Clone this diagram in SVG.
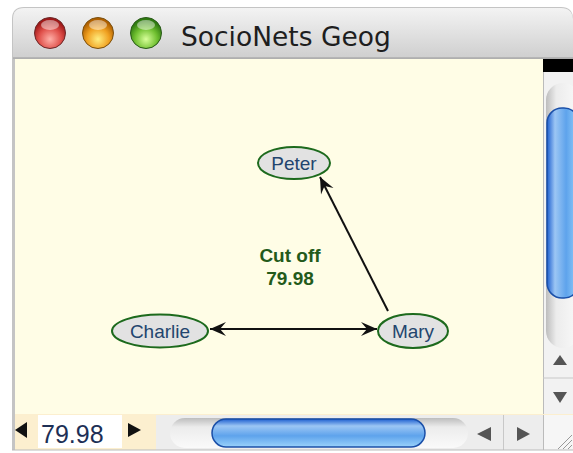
<svg xmlns="http://www.w3.org/2000/svg" width="573" height="453" viewBox="0 0 573 453">
<defs>
<linearGradient id="titleG" x1="0" y1="0" x2="0" y2="1">
<stop offset="0" stop-color="#f3f3f3"/><stop offset="1" stop-color="#cfcfcf"/>
</linearGradient>
<radialGradient id="redG" cx="0.5" cy="0.7" r="0.6">
<stop offset="0" stop-color="#ffb0a8"/><stop offset="0.6" stop-color="#e0504a"/><stop offset="1" stop-color="#a01818"/>
</radialGradient>
<radialGradient id="oraG" cx="0.5" cy="0.7" r="0.6">
<stop offset="0" stop-color="#ffee80"/><stop offset="0.6" stop-color="#f0a020"/><stop offset="1" stop-color="#b06000"/>
</radialGradient>
<radialGradient id="grnG" cx="0.5" cy="0.7" r="0.6">
<stop offset="0" stop-color="#d8ff9a"/><stop offset="0.6" stop-color="#70c030"/><stop offset="1" stop-color="#2f7a10"/>
</radialGradient>
<linearGradient id="vTrack" x1="0" y1="0" x2="1" y2="0">
<stop offset="0" stop-color="#bdbdbd"/><stop offset="0.3" stop-color="#ececec"/><stop offset="1" stop-color="#fafafa"/>
</linearGradient>
<linearGradient id="hTrack" x1="0" y1="0" x2="0" y2="1">
<stop offset="0" stop-color="#bdbdbd"/><stop offset="0.3" stop-color="#ececec"/><stop offset="1" stop-color="#fafafa"/>
</linearGradient>
<linearGradient id="vThumb" x1="0" y1="0" x2="1" y2="0">
<stop offset="0" stop-color="#1e5fd0"/><stop offset="0.25" stop-color="#9cc6f4"/><stop offset="0.6" stop-color="#5ea3ec"/><stop offset="1" stop-color="#9ad2fb"/>
</linearGradient>
<linearGradient id="hThumb" x1="0" y1="0" x2="0" y2="1">
<stop offset="0" stop-color="#1e5fd0"/><stop offset="0.25" stop-color="#9cc6f4"/><stop offset="0.6" stop-color="#5ea3ec"/><stop offset="1" stop-color="#9ad2fb"/>
</linearGradient>
<marker id="arr" viewBox="-17 -8 18 16" refX="0" refY="0" markerWidth="18" markerHeight="16" markerUnits="userSpaceOnUse" orient="auto-start-reverse">
<path d="M0,0 L-16,-7 L-10,0 L-16,7 Z" fill="#111"/>
</marker>
</defs>
<style>
.node ellipse{fill:#e2e2e2;stroke:#1d6a1d;stroke-width:2}
.node text{font-family:"Liberation Sans",Arial,sans-serif;font-size:19px;fill:#23456e;text-anchor:middle}
.edge{stroke:#111;stroke-width:2;fill:none}
.cut{font-family:"Liberation Sans",Arial,sans-serif;font-size:19px;font-weight:bold;fill:#235a1a;text-anchor:middle}
.arrow{fill:#111}
.garrow{fill:#555}
</style>
<rect width="573" height="453" fill="#ffffff"/>
<!-- window chrome -->
<path d="M12,450 L12,19 Q12,7 24,7 L561,7 Q573,7 573,19 L573,450 Z" fill="#c4c4c4"/>
<path d="M13,58 L13,19 Q13,8 24,8 L561,8 Q572,8 573,19 L573,58 Z" fill="url(#titleG)"/>
<line x1="13" y1="58" x2="573" y2="58" stroke="#9a9a9a" stroke-width="1"/>
<circle cx="50" cy="33" r="15.5" fill="url(#redG)" stroke="#6a2a2a" stroke-width="1"/>
<circle cx="98" cy="33" r="15.5" fill="url(#oraG)" stroke="#7a5010" stroke-width="1"/>
<circle cx="146" cy="33" r="15.5" fill="url(#grnG)" stroke="#2a5a1a" stroke-width="1"/>
<ellipse cx="50" cy="25" rx="9" ry="5" fill="#ffffff" opacity="0.45"/>
<ellipse cx="98" cy="25" rx="9" ry="5" fill="#ffffff" opacity="0.45"/>
<ellipse cx="146" cy="25" rx="9" ry="5" fill="#ffffff" opacity="0.45"/>
<text x="181" y="46" font-family="DejaVu Sans, sans-serif" font-size="26.5" fill="#1e1e1e">SocioNets Geog</text>
<!-- content area -->
<rect x="15" y="59" width="528" height="355" fill="#fffde6"/>
<rect x="543" y="59" width="30" height="13" fill="#000"/>
<!-- vertical scrollbar -->
<rect x="543" y="72" width="30" height="343" fill="#f2f2f2"/>
<line x1="543.5" y1="72" x2="543.5" y2="415" stroke="#bbb"/>
<rect x="546" y="83" width="34" height="265" rx="17" fill="url(#vTrack)"/>
<rect x="547" y="108" width="32" height="190" rx="15" fill="url(#vThumb)" stroke="#1a4fa8" stroke-width="1.5"/>
<line x1="543" y1="378" x2="573" y2="378" stroke="#c8c8c8"/>
<polygon points="553,365 567,365 560,355" class="garrow"/>
<polygon points="553,392 567,392 560,403" class="garrow"/>
<!-- bottom bar -->
<rect x="15" y="414" width="558" height="36" fill="#fcefcf"/>
<polygon points="15,430 27,422 27,438" class="arrow"/>
<rect x="38" y="415" width="84" height="33" fill="#ffffff"/>
<text x="41" y="443" font-family="Liberation Sans, Arial, sans-serif" font-size="25" fill="#1d2f55">79.98</text>
<polygon points="128,423 141,430 128,437" class="arrow"/>
<rect x="156" y="415" width="387" height="35" fill="#ededed"/>
<rect x="170" y="418" width="298" height="30" rx="15" fill="url(#hTrack)"/>
<rect x="212" y="419" width="213" height="28" rx="14" fill="url(#hThumb)" stroke="#1a4fa8" stroke-width="1.5"/>
<line x1="503.5" y1="415" x2="503.5" y2="450" stroke="#c8c8c8"/>
<polygon points="477,434 491,427 491,441" class="garrow"/>
<polygon points="517,427 530,434 517,441" class="garrow"/>
<rect x="543" y="415" width="30" height="35" fill="#f6f6f6"/>
<line x1="543.5" y1="415" x2="543.5" y2="450" stroke="#bbb"/>
<line x1="558" y1="449" x2="572" y2="435" stroke="#999"/>
<line x1="563" y1="449" x2="572" y2="440" stroke="#999"/>
<line x1="568" y1="449" x2="572" y2="445" stroke="#999"/>
<line x1="12" y1="450" x2="573" y2="450" stroke="#bbb"/>
<!-- connectors -->
<g id="connectors">
<line class="edge" x1="210" y1="329" x2="377" y2="329" marker-start="url(#arr)" marker-end="url(#arr)"/>
<line class="edge" x1="388" y1="311" x2="320" y2="177" marker-end="url(#arr)"/>
</g>
<g id="cutoff">
<text class="cut" x="290" y="262">Cut off</text>
<text class="cut" x="290" y="285">79.98</text>
</g>
<g id="peter" class="node">
<ellipse cx="294" cy="163" rx="36" ry="16"/>
<text x="294" y="170">Peter</text>
</g>
<g id="charlie" class="node">
<ellipse cx="160" cy="331" rx="48" ry="16.5"/>
<text x="160" y="338">Charlie</text>
</g>
<g id="mary" class="node">
<ellipse cx="413" cy="331" rx="35" ry="17"/>
<text x="413" y="338">Mary</text>
</g>
</svg>
